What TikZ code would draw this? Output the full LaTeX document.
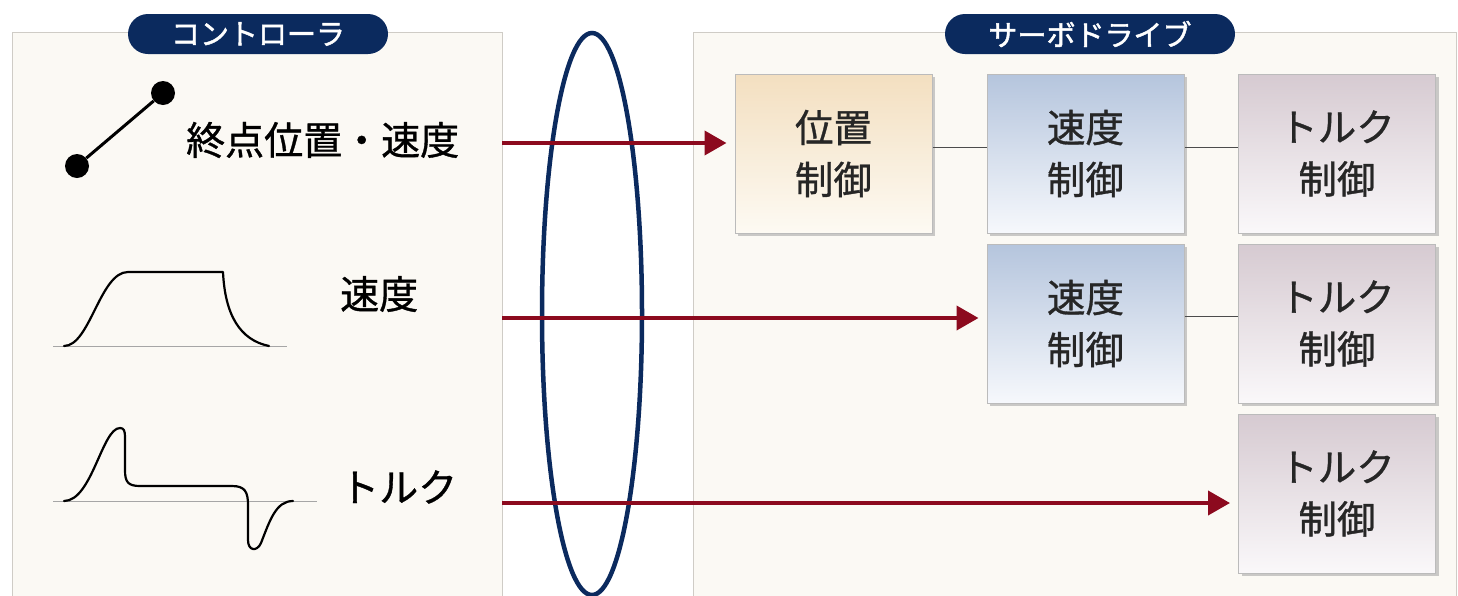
\documentclass[tikz,border=0pt]{standalone}
\usepackage{fontspec}
\setmainfont{Noto Sans CJK JP}
\newfontfamily\jpmed{Noto Sans CJK JP}[FakeBold=0.9]
\newfontfamily\jpbold{Noto Sans CJK JP}[FakeBold=1.6]
\usetikzlibrary{arrows.meta,shadows,shapes.geometric}
\definecolor{navy}{HTML}{0B2A5E}
\definecolor{arrred}{HTML}{8C0A1E}
\definecolor{panelbg}{HTML}{FBF9F4}
\definecolor{panelline}{HTML}{CFCCC6}
\definecolor{posTop}{HTML}{F3DFC0}
\definecolor{posBot}{HTML}{FDFAF3}
\definecolor{velTop}{HTML}{B5C5DD}
\definecolor{velBot}{HTML}{F6F8FC}
\definecolor{trqTop}{HTML}{D6CAD1}
\definecolor{trqBot}{HTML}{FAF8FA}
\definecolor{boxline}{HTML}{BBBBBB}
\begin{document}
\begin{tikzpicture}[x=1pt,y=-1pt,
  panel/.style={draw=panelline, fill=panelbg, line width=1pt},
  pill/.style={fill=navy, rounded corners=20pt, minimum height=40pt, text=white,
    font=\jpbold\fontsize{29}{29}\selectfont, inner sep=0pt},
  ctrlbox/.style={draw=boxline, line width=1pt, minimum width=197pt, minimum height=159pt,
    align=center, inner sep=0pt, font=\jpmed\fontsize{38.5}{52}\selectfont, text=black!85,
    drop shadow={shadow xshift=3pt, shadow yshift=-3pt, fill=black!40, opacity=0.5}},
  posbox/.style={ctrlbox, top color=posTop, bottom color=posBot},
  velbox/.style={ctrlbox, top color=velTop, bottom color=velBot},
  trqbox/.style={ctrlbox, top color=trqTop, bottom color=trqBot},
  lbl/.style={anchor=west, inner sep=0pt, font=\jpmed\fontsize{39}{39}\selectfont},
  arr/.style={draw=arrred, line width=4pt, -{Triangle[length=22pt,width=24pt]}, shorten >=8pt},
  link/.style={draw=black!70, line width=1pt},
  wave/.style={draw=black, line width=2.2pt, line cap=round, line join=round},
  base/.style={draw=black!35, line width=0.8pt},
  dot/.style={circle, fill=black, minimum size=24pt, inner sep=0pt},
  bus/.style={draw=navy, line width=4.5pt, ellipse, inner sep=0pt, minimum width=100pt, minimum height=562pt}
]
\useasboundingbox (0,0) rectangle (1458,595);
\clip (0,0) rectangle (1458,595);
\fill[white] (0,0) rectangle (1458,595);

% panels
\draw[panel] (12,32) rectangle (502,620);
\draw[panel] (693,32) rectangle (1456,620);

% pills
\node[pill, minimum width=260pt] (ctrl) at (258,34) {コントローラ};
\node[pill, minimum width=290pt] (servo) at (1090,34) {サーボドライブ};

% left: endpoint icon
\node[dot] (d1) at (163,93) {};
\node[dot] (d2) at (77,166) {};
\draw[line width=3pt] (d1) -- (d2);
\node[lbl] (l1) at (186,140) {終点位置・速度};

% velocity icon
\draw[base] (53,346) -- (287,346);
\draw[wave] (64,346) .. controls (90,346) and (100,272) .. (128,272) -- (223,272)
  .. controls (225,315) and (240,340) .. (269,346);
\node[lbl] (l2) at (340,294) {速度};

% torque icon
\draw[base] (53,501) -- (317,501);
\draw[wave] (64,501) .. controls (92,501) and (102,428) .. (120,428)
  .. controls (124,428) and (125,431) .. (125,437) -- (125,470)
  .. controls (125,482) and (128,486) .. (140,486) -- (232,486)
  .. controls (245,486) and (248,492) .. (248,505) -- (248,540)
  .. controls (248,551) and (257,552) .. (261,543)
  .. controls (270,520) and (276,501) .. (293,501);
\node[lbl] (l3) at (340,487) {トルク};

% servo boxes
\node[posbox] (p1) at (833.5,153.5) {位置\\制御};
\node[velbox] (v1) at (1085.5,153.5) {速度\\制御};
\node[trqbox] (t1) at (1337,153.5) {トルク\\制御};
\node[velbox] (v2) at (1085.5,323.5) {速度\\制御};
\node[trqbox] (t2) at (1337,323.5) {トルク\\制御};
\node[trqbox] (t3) at (1337,493.5) {トルク\\制御};

\draw[link] ([yshift=6.5pt]p1.east) -- ([yshift=6.5pt]v1.west);
\draw[link] ([yshift=6.5pt]v1.east) -- ([yshift=6.5pt]t1.west);
\draw[link] ([yshift=7pt]v2.east) -- ([yshift=7pt]t2.west);

% bus ellipse
\node[bus] (bus) at (592,314) {};

% arrows
\coordinate (a1) at (502,143);
\coordinate (a2) at (502,318);
\coordinate (a3) at (502,503);
\draw[arr] (a1) -- (a1 -| p1.west);
\draw[arr] (a2) -- (a2 -| v2.west);
\draw[arr] (a3) -- (a3 -| t3.west);
\end{tikzpicture}
\end{document}
